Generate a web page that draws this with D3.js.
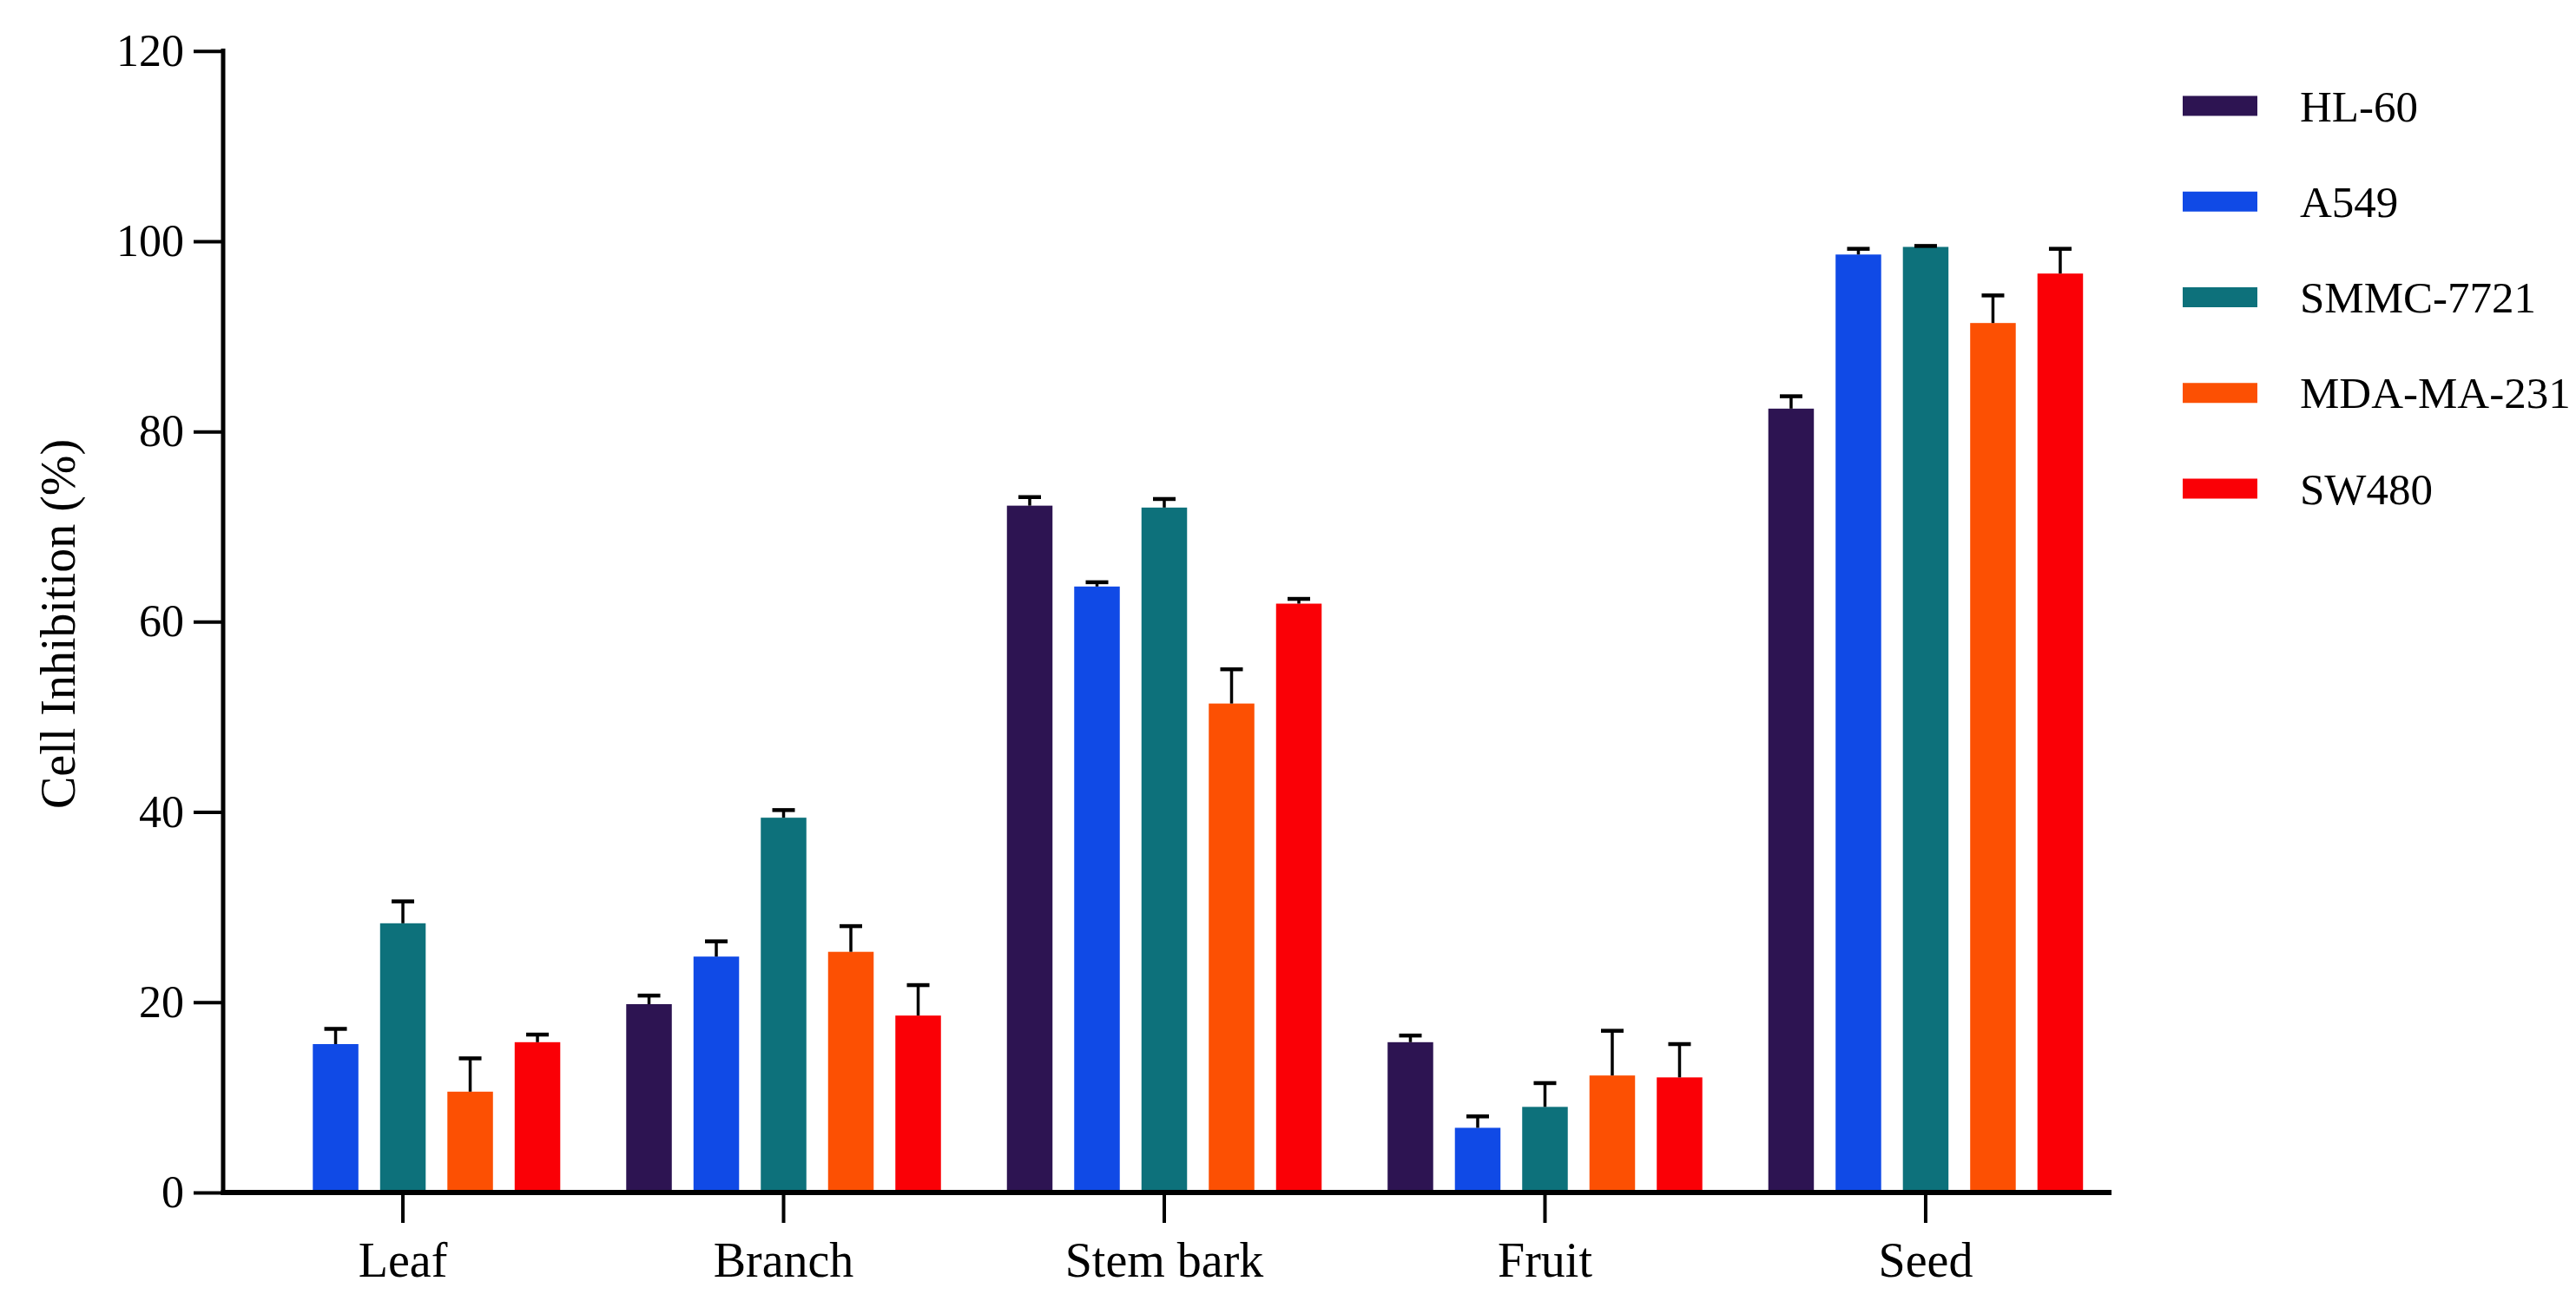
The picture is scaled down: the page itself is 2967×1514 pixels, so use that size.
<!DOCTYPE html>
<html>
<head>
<meta charset="utf-8">
<script src="https://cdn.jsdelivr.net/npm/d3@7"></script>
<style>
  html, body { margin: 0; padding: 0; background: #ffffff; }
  svg { display: block; }
  text { font-family: "Liberation Serif", "Times New Roman", serif; fill: #000; }
</style>
</head>
<body>
<svg id="chart" width="2967" height="1514"></svg>
<script>
// ---------------- data ----------------
const categories = ["Leaf", "Branch", "Stem bark", "Fruit", "Seed"];
const seriesNames = ["HL-60", "A549", "SMMC-7721", "MDA-MA-231", "SW480"];
const seriesColors = ["#2d1452", "#104ae6", "#0d717b", "#fc5003", "#fa0006"];

const hl60Values  = [null, 19.8, 72.2, 15.8, 82.4];
const a549Values  = [15.6, 24.8, 63.7, 6.8, 98.6];
const smmcValues  = [28.3, 39.4, 72.0, 9.0, 99.4];
const mdaValues   = [10.6, 25.3, 51.4, 12.3, 91.4];
const sw480Values = [15.8, 18.6, 61.9, 12.1, 96.6];

const hl60Errors  = [null, 0.9, 0.9, 0.7, 1.3];
const a549Errors  = [1.6, 1.6, 0.45, 1.2, 0.6];
const smmcErrors  = [2.3, 0.8, 0.9, 2.5, 0.1];
const mdaErrors   = [3.5, 2.7, 3.6, 4.7, 2.9];
const sw480Errors = [0.8, 3.2, 0.5, 3.5, 2.6];

const yTickValues = [0, 20, 40, 60, 80, 100, 120];
const yTitle = "Cell Inhibition (%)";

const allValues = [hl60Values, a549Values, smmcValues, mdaValues, sw480Values];
const allErrors = [hl60Errors, a549Errors, smmcErrors, mdaErrors, sw480Errors];

const records = [];
categories.forEach((c, ci) => {
  seriesNames.forEach((s, si) => {
    const v = allValues[si][ci];
    if (v !== null) records.push({ cat: c, series: s, value: v, err: allErrors[si][ci], color: seriesColors[si] });
  });
});

// ---------------- layout ----------------
const svg = d3.select("#chart");
const axisX = 257;
const plotRight = 2432;

const x0 = d3.scaleBand().domain(categories).range([244.8, 2437.2]).padding(0);
const x1 = d3.scaleBand().domain(seriesNames).range([-181.25, 181.25]).paddingInner(0.3226).paddingOuter(0);
const y = d3.scaleLinear().domain([0, 120]).range([1374, 58.7]);

// bars
svg.append("g").selectAll("rect").data(records).join("rect")
  .attr("x", d => x0(d.cat) + x0.bandwidth() / 2 + x1(d.series))
  .attr("y", d => y(d.value))
  .attr("width", x1.bandwidth())
  .attr("height", d => y(0) - y(d.value))
  .attr("fill", d => d.color);

// error bars
const eb = svg.append("g").attr("stroke", "#000");
records.forEach(d => {
  const cx = x0(d.cat) + x0.bandwidth() / 2 + x1(d.series) + x1.bandwidth() / 2;
  eb.append("line").attr("x1", cx).attr("x2", cx)
    .attr("y1", y(d.value)).attr("y2", y(d.value + d.err)).attr("stroke-width", 3.5);
  eb.append("line").attr("x1", cx - 13).attr("x2", cx + 13)
    .attr("y1", y(d.value + d.err)).attr("y2", y(d.value + d.err)).attr("stroke-width", 4.5);
});

// y axis
const yAxis = svg.append("g").attr("transform", `translate(${axisX},0)`)
  .call(d3.axisLeft(y).tickValues(yTickValues).tickSize(34).tickPadding(11).tickFormat(d3.format("d")));
yAxis.select(".domain").remove();
yAxis.selectAll(".tick line").attr("stroke", "#000").attr("stroke-width", 4);
yAxis.selectAll(".tick text").attr("font-size", 52).attr("font-family", "Liberation Serif").attr("fill", "#000");
svg.append("line").attr("x1", axisX).attr("x2", axisX).attr("y1", 56).attr("y2", 1377)
  .attr("stroke", "#000").attr("stroke-width", 5);

// x axis
const xAxis = svg.append("g").attr("transform", `translate(0,1377)`)
  .call(d3.axisBottom(x0).tickSize(32).tickPadding(22));
xAxis.select(".domain").remove();
xAxis.selectAll(".tick line").attr("stroke", "#000").attr("stroke-width", 4);
xAxis.selectAll(".tick text").attr("font-size", 56).attr("font-family", "Liberation Serif").attr("fill", "#000")
  .attr("dy", "0.71em");
svg.append("line").attr("x1", axisX - 2.5).attr("x2", plotRight).attr("y1", 1374).attr("y2", 1374)
  .attr("stroke", "#000").attr("stroke-width", 6);

// y title
svg.append("text").attr("transform", "translate(67,719) rotate(-90)")
  .attr("text-anchor", "middle").attr("dominant-baseline", "central")
  .attr("font-size", 56).text(yTitle);

// legend
const legend = svg.append("g");
seriesNames.forEach((s, i) => {
  const cy = 122 + i * 110.25;
  legend.append("rect").attr("x", 2514).attr("y", cy - 11.5).attr("width", 86).attr("height", 23).attr("fill", seriesColors[i]);
  legend.append("text").attr("x", 2649).attr("y", cy + 17.5).attr("font-size", 51).text(s);
});
</script>
</body>
</html>
